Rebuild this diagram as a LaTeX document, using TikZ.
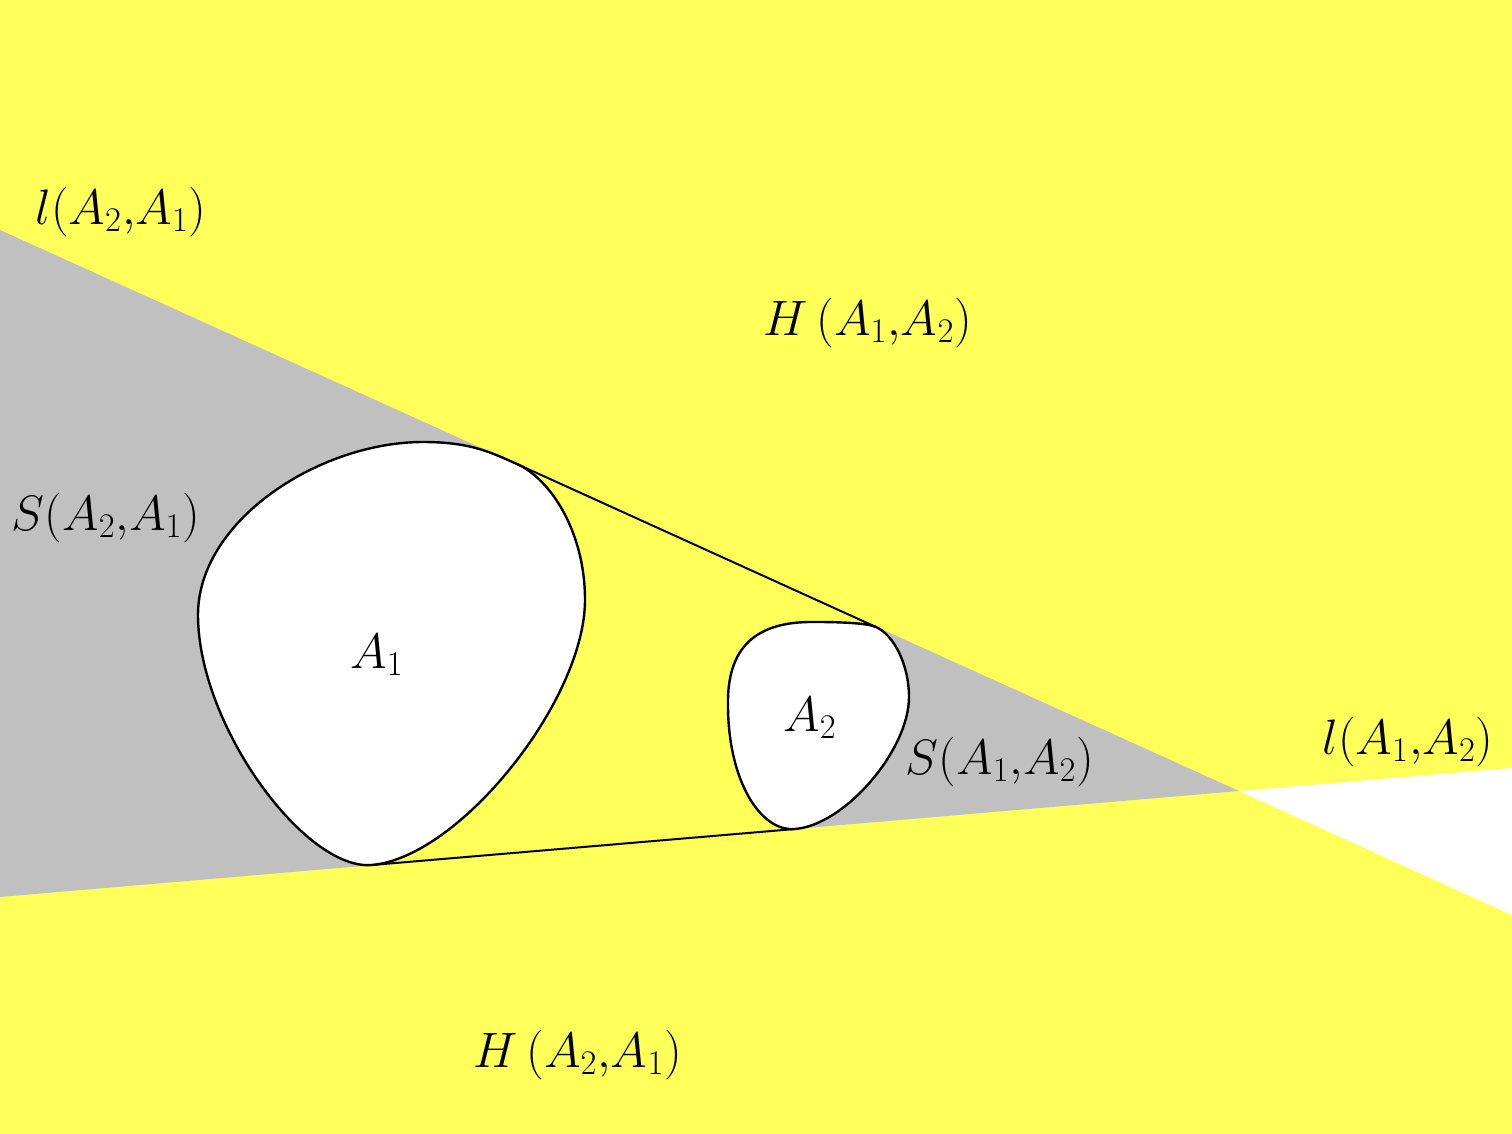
\documentclass[tikz,border=0pt]{standalone}
\definecolor{yel}{RGB}{255,255,90}
\definecolor{gry}{RGB}{192,192,192}
\begin{document}
\begin{tikzpicture}[x=0.5pt,y=-0.5pt,
  lbl/.style={inner sep=0pt,font=\fontsize{25}{30}\selectfont},
  blob/.style={draw=black,line width=1.2pt,fill=white},
  tang/.style={draw=black,line width=1pt}]
\fill[yel] (0,0) rectangle (1512,1134);
\useasboundingbox (0,0) rectangle (1512,1134);
\coordinate (UL) at (0,230);
\coordinate (LL) at (0,897);
\coordinate (X) at (1239,791);
\coordinate (UR) at (1512,915);
\coordinate (LR) at (1512,768);
\coordinate (t1) at (517,464);
\coordinate (t2) at (876,627);
\coordinate (b1) at (372,865);
\coordinate (b2) at (795,829);
\fill[gry] (UL) -- (X) -- (LL) -- cycle;
\fill[white] (X) -- (LR) -- (UR) -- cycle;
\fill[yel] (t1) -- (t2) -- (b2) -- (b1) -- cycle;
% A1
\draw[blob] (423,442) .. controls (470,442) and (490,452) .. (t1)
  .. controls (549,478) and (585,530) .. (585,600)
  .. controls (585,700) and (460,857) .. (b1)
  .. controls (305,871) and (198,725) .. (198,615)
  .. controls (198,520) and (320,442) .. (423,442) -- cycle;
% A2
\draw[blob] (815,622) .. controls (840,622) and (867,623) .. (t2)
  .. controls (894,635) and (909,665) .. (909,697)
  .. controls (909,750) and (845,825) .. (b2)
  .. controls (760,832) and (728,780) .. (728,705)
  .. controls (727,648) and (755,621) .. (815,622) -- cycle;
\draw[tang] (t1) -- (t2);
\draw[tang] (b1) -- (b2);
\node[lbl] (lA2A1) at (121,212) {$l(A_2{,}A_1)$};
\node[lbl] (HA1A2) at (868,323) {$H\,(A_1{,}A_2)$};
\node[lbl] (SA2A1) at (106,518) {$S(A_2{,}A_1)$};
\node[lbl] (A1) at (377,655) {$A_1$};
\node[lbl] (A2) at (810,718) {$A_2$};
\node[lbl] (SA1A2) at (1000,762) {$S(A_1{,}A_2)$};
\node[lbl] (lA1A2) at (1408,742) {$l(A_1{,}A_2)$};
\node[lbl] (HA2A1) at (578,1055) {$H\,(A_2{,}A_1)$};
\end{tikzpicture}
\end{document}
